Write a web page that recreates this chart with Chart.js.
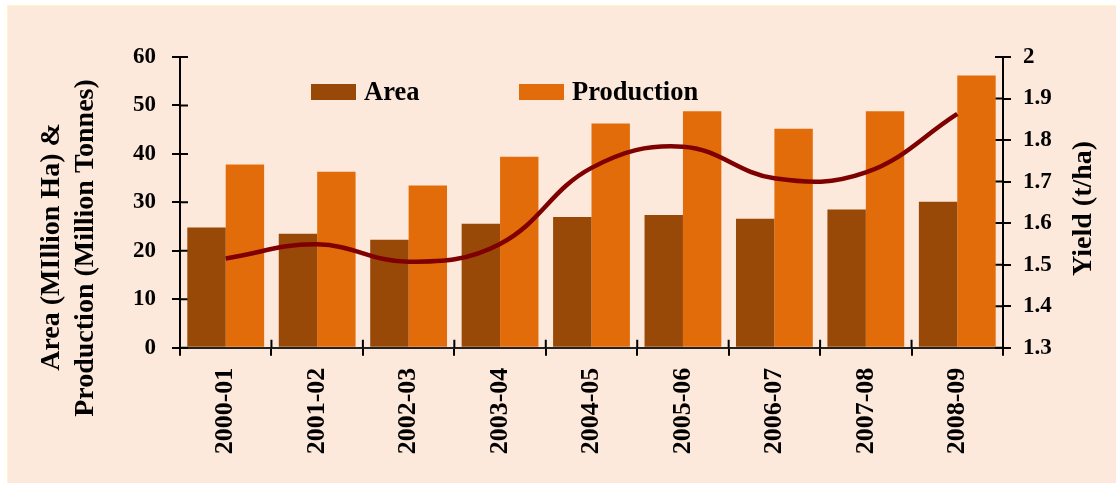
<!DOCTYPE html>
<html>
<head>
<meta charset="utf-8">
<script src="https://cdn.jsdelivr.net/npm/chart.js@4.4.1/dist/chart.umd.min.js"></script>
<style>
    html, body { margin: 0; padding: 0; background: #fff; }
    #frame {
        position: absolute; left: 7px; top: 5px;
        width: 1109px; height: 478px;
        background: #FDE9DB;
        border-left: 1px solid #FFF6C4;
        border-top: 1px solid #FFF6C4;
    }
    canvas { display: block; }
</style>
</head>
<body>
<div id="frame"><canvas id="chart" width="1109" height="478"></canvas></div>
<script>
// Data
const years = ['2000-01', '2001-02', '2002-03', '2003-04', '2004-05', '2005-06', '2006-07', '2007-08', '2008-09'];
const areaValues = [24.8, 23.5, 22.3, 25.6, 27.0, 27.4, 26.6, 28.5, 30.1];
const productionValues = [37.8, 36.3, 33.5, 39.4, 46.3, 48.8, 45.2, 48.8, 56.2];
const yieldValues = [1.515, 1.549, 1.507, 1.55, 1.733, 1.784, 1.708, 1.722, 1.863];
const leftAxisRange = [0, 60, 10];      // min, max, step
const rightAxisRange = [1.3, 2, 0.1];

const leftTitle = ['Area (MIllion Ha) &', 'Production (Million Tonnes)'];
const rightTitle = 'Yield (t/ha)';

const FONT = "'Liberation Serif', 'Times New Roman', serif";
Chart.defaults.font.family = FONT;
Chart.defaults.font.weight = 'bold';
Chart.defaults.color = '#000';

function rotatedText(ctx, text, x, y) {
    ctx.save();
    ctx.translate(x, y);
    ctx.rotate(-Math.PI / 2);
    ctx.fillText(text, 0, 0);
    ctx.restore();
}

// crossing tick marks, legend and axis titles
const decor = {
    id: 'decor',
    beforeDatasetsDraw(chart) {
        const ctx = chart.ctx;
        const { left, right, bottom } = chart.chartArea;
        const x = chart.scales.x, y = chart.scales.y, y2 = chart.scales.y2;
        ctx.save();
        ctx.strokeStyle = '#000';
        ctx.lineWidth = 2;
        ctx.beginPath();
        y.ticks.forEach((t, i) => {
            const p = y.getPixelForTick(i);
            ctx.moveTo(left, p); ctx.lineTo(left + 8, p);
        });
        y2.ticks.forEach((t, i) => {
            const p = y2.getPixelForTick(i);
            ctx.moveTo(right, p); ctx.lineTo(right - 8, p);
        });
        for (let i = 1; i < years.length; i++) {
            const p = x.getPixelForValue(i - 0.5);
            ctx.moveTo(p, bottom); ctx.lineTo(p, bottom - 8);
        }
        ctx.stroke();
        ctx.restore();
    },
    afterDraw(chart) {
        const ctx = chart.ctx;
        const { top, bottom } = chart.chartArea;
        ctx.save();
        ctx.fillStyle = '#000';
        ctx.textBaseline = 'middle';

        // legend
        const legendX = [303, 511];
        const bars = chart.data.datasets.filter(d => d.type === 'bar');
        ctx.font = 'bold 26.5px ' + FONT;
        ctx.textAlign = 'left';
        bars.forEach((d, i) => {
            ctx.fillStyle = d.backgroundColor;
            ctx.fillRect(legendX[i], 78, 45, 16);
            ctx.fillStyle = '#000';
            ctx.fillText(d.label, legendX[i] + 53, 87);
        });

        // axis titles, read bottom to top
        ctx.textAlign = 'center';
        ctx.font = 'bold 28px ' + FONT;
        rotatedText(ctx, leftTitle[0], 44, 241);
        rotatedText(ctx, leftTitle[1], 78, 242);
        rotatedText(ctx, rightTitle, 1076, (top + bottom) / 2 + 6);
        ctx.restore();
    }
};

new Chart(document.getElementById('chart'), {
    data: {
        labels: years,
        datasets: [
            {
                type: 'line', label: 'Yield', data: yieldValues, yAxisID: 'y2',
                borderColor: '#7F0000', borderWidth: 4.5, tension: 0.4,
                pointRadius: 0, fill: false, order: 0
            },
            {
                type: 'bar', label: 'Area', data: areaValues, yAxisID: 'y',
                backgroundColor: '#984807', order: 1,
                categoryPercentage: 0.84, barPercentage: 1.0
            },
            {
                type: 'bar', label: 'Production', data: productionValues, yAxisID: 'y',
                backgroundColor: '#E36C0A', order: 1,
                categoryPercentage: 0.84, barPercentage: 1.0
            }
        ]
    },
    options: {
        responsive: false,
        animation: false,
        layout: { padding: { top: 51, left: 0, right: 0, bottom: 0 } },
        plugins: { legend: { display: false }, tooltip: { enabled: false } },
        scales: {
            x: {
                offset: true,
                grid: { offset: true, drawOnChartArea: false, color: '#000', lineWidth: 2, tickLength: 8 },
                border: { color: '#222', width: 2 },
                ticks: { minRotation: 90, maxRotation: 90, autoSkip: false, padding: 12, font: { size: 26 } },
                afterFit: s => { s.height = 136.3; }
            },
            y: {
                position: 'left',
                min: leftAxisRange[0], max: leftAxisRange[1],
                grid: { drawOnChartArea: false, color: '#000', lineWidth: 2, tickLength: 8 },
                border: { color: '#000', width: 2 },
                ticks: { stepSize: leftAxisRange[2], padding: 16, font: { size: 23 } },
                afterFit: s => { s.width = 172; }
            },
            y2: {
                position: 'right',
                min: rightAxisRange[0], max: rightAxisRange[1],
                grid: { drawOnChartArea: false, color: '#000', lineWidth: 2, tickLength: 8 },
                border: { color: '#000', width: 2 },
                ticks: { stepSize: rightAxisRange[2], padding: 12, font: { size: 23 },
                    callback: v => String(+v.toFixed(1)) },
                afterFit: s => { s.width = 114; }
            }
        }
    },
    plugins: [decor]
});
</script>
</body>
</html>
